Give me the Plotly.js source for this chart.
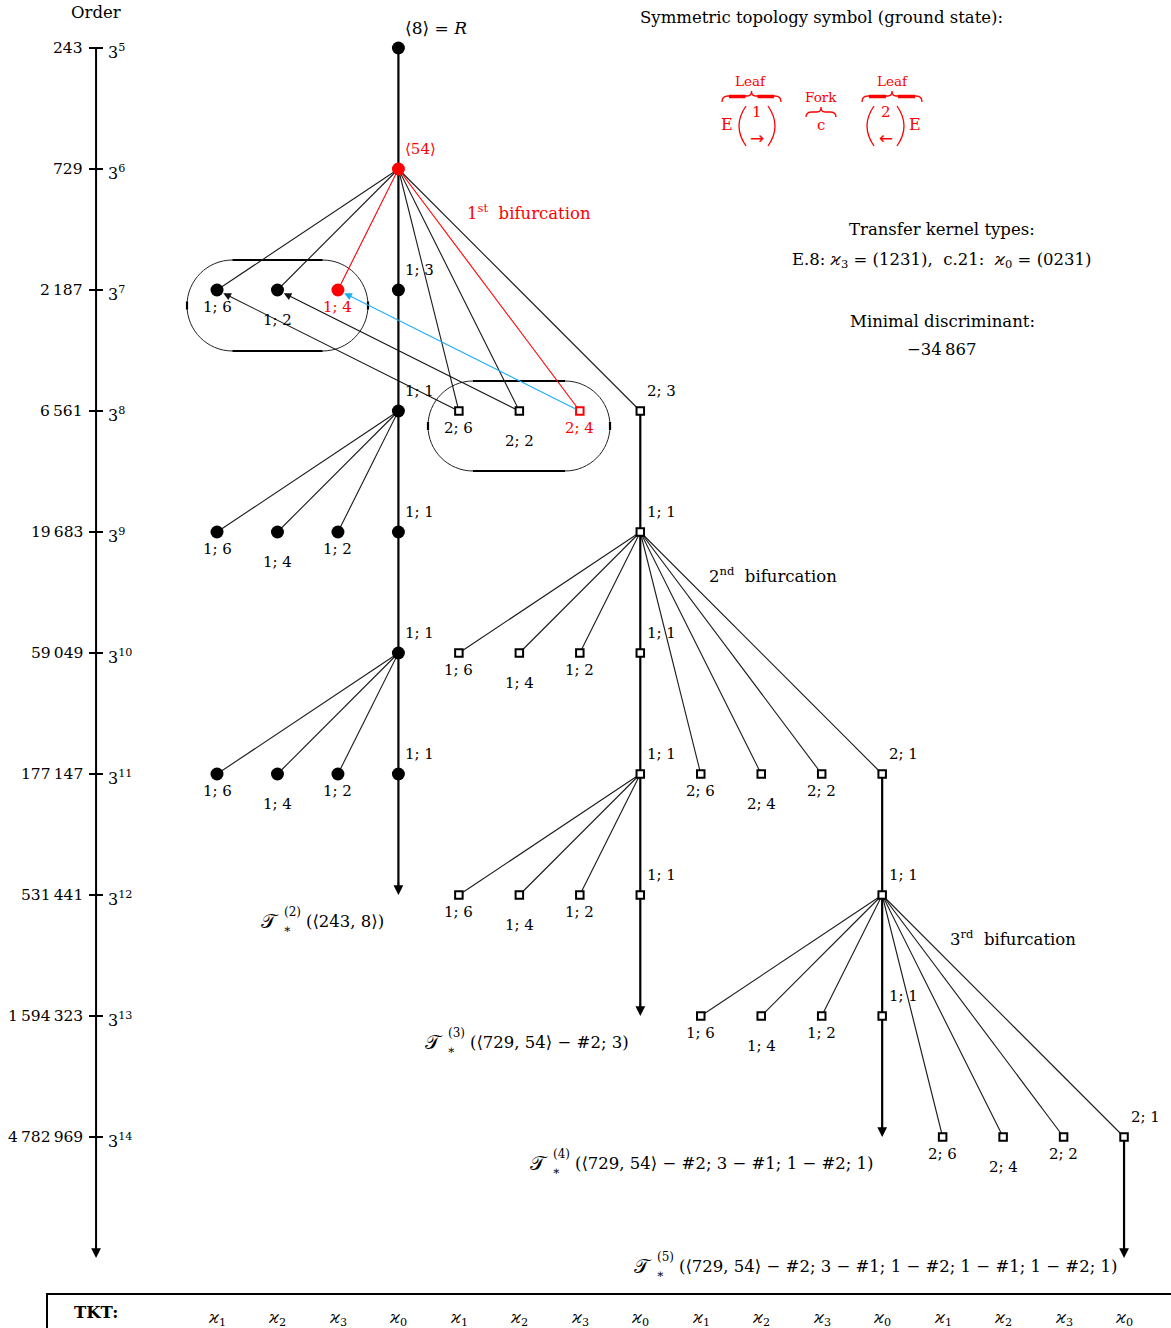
<!DOCTYPE html>
<html><head><meta charset="utf-8">
<script src="https://cdn.plot.ly/plotly-3.0.1.min.js"></script>
<style>html,body{margin:0;padding:0;background:#fff}#g{width:1171px;height:1328px}</style>
</head><body><div id="g"></div>
<script>
// ---------------- data ----------------
const orderLabels = ['243','729','2\u2009187','6\u2009561','19\u2009683','59\u2009049','177\u2009147','531\u2009441','1\u2009594\u2009323','4\u2009782\u2009969'];
const orderExps = [5,6,7,8,9,10,11,12,13,14];
const tktLabels = ['1','2','3','0','1','2','3','0','1','2','3','0','1','2','3','0'];
const tktCols = [1,2,3,4,5,6,7,8,9,10,11,12,13,14,15,16];

// circle vertices (main trunk)
const circCol = [4,4,1,2,3,4,4,1,2,3,4,4,1,2,3,4];
const circLev = [5,6,7,7,7,7,8,9,9,9,9,10,11,11,11,11];
const circLab = ['\u27E88\u27E9\u00A0=\u00A0<i>R</i>','\u27E854\u27E9','1; 6','1; 2','1; 4','1; 3','1; 1','1; 6','1; 4','1; 2','1; 1','1; 1','1; 6','1; 4','1; 2','1; 1'];
const circRed = [false,true,false,false,true,false,false,false,false,false,false,false,false,false,false,false];

// square vertices
const sqCol = [5,6,7,8, 8, 5,6,7,8, 8,9,10,11,12, 5,6,7,8,12, 9,10,11,12, 13,14,15,16];
const sqLev = [8,8,8,8, 9, 10,10,10,10, 11,11,11,11,11, 12,12,12,12,12, 13,13,13,13, 14,14,14,14];
const sqLab = ['2; 6','2; 2','2; 4','2; 3','1; 1','1; 6','1; 4','1; 2','1; 1','1; 1','2; 6','2; 4','2; 2','2; 1','1; 6','1; 4','1; 2','1; 1','1; 1','1; 6','1; 4','1; 2','1; 1','2; 6','2; 4','2; 2','2; 1'];
const sqRed = sqCol.map((c,i)=> i===2);

// edges [fromCol, fromLev, toCol, toLev]
const edgesBlack = [[4,6,1,7],[4,6,2,7],[4,6,5,8],[4,6,6,8],[4,6,8,8],
  [4,8,1,9],[4,8,2,9],[4,8,3,9],
  [4,10,1,11],[4,10,2,11],[4,10,3,11],
  [8,9,5,10],[8,9,6,10],[8,9,7,10],[8,9,9,11],[8,9,10,11],[8,9,11,11],[8,9,12,11],
  [8,11,5,12],[8,11,6,12],[8,11,7,12],
  [12,12,9,13],[12,12,10,13],[12,12,11,13],[12,12,13,14],[12,12,14,14],[12,12,15,14],[12,12,16,14]];
const edgesRed = [[4,6,3,7],[4,6,7,8]];
// capitulation arrows [fromCol, fromLev, toCol, toLev]
const capArrows = [[5,8,1,7],[6,8,2,7],[7,8,3,7]];
const capColors = ['#111','#111','#1eaef0'];

// mainlines (trunks) [col, fromLev, toLev]
const trunks = [[4,5,12],[8,8,13],[12,11,14],[16,14,15]];
const treeNames = [
  {sup:'(2)', rest:'(\u27E8243, 8\u27E9)'},
  {sup:'(3)', rest:'(\u27E8729, 54\u27E9\u00A0\u2212\u00A0#2; 3)'},
  {sup:'(4)', rest:'(\u27E8729, 54\u27E9\u00A0\u2212\u00A0#2; 3\u00A0\u2212\u00A0#1; 1\u00A0\u2212\u00A0#2; 1)'},
  {sup:'(5)', rest:'(\u27E8729, 54\u27E9\u00A0\u2212\u00A0#2; 3\u00A0\u2212\u00A0#1; 1\u00A0\u2212\u00A0#2; 1\u00A0\u2212\u00A0#1; 1\u00A0\u2212\u00A0#2; 1)'}
];

// ---------------- geometry helpers ----------------
const W=1171,H=1328;
const cx = px => 1+(px-217)/60.47;
const ly = py => 5+(py-48)/121;
const PX = x => x/W, PY = y => 1-y/H;
const FONT = 'DejaVu Serif, Liberation Serif, serif';
const RED = '#ff0000';
const FS = 16.5;

const circPos = ['ur','ur','b','bb','b','ur','ur','b','bb','b','ur','ur','b','bb','b','ur'];
const sqPos = ['b','bb','b','ur','ur','b','bb','b','ur','ur','b','bb','b','ur','b','bb','b','ur','ur','b','bb','b','ur','b','bb','b','ur'];

const traces = [];
const annotations = [];
const shapes = [];

// order axis
traces.push({x:[-1,-1], y:[5, 14.93], mode:'lines', line:{color:'#000', width:2}, hoverinfo:'skip'});
{
  const tx=[], ty=[];
  orderExps.forEach(e=>{ tx.push(cx(89),cx(103),null); ty.push(e,e,null); });
  traces.push({x:tx,y:ty,mode:'lines',line:{color:'#000',width:2},hoverinfo:'skip'});
}
annotations.push({x:-1, y:15, ax:0, ay:-14, text:'', showarrow:true, arrowhead:2, arrowsize:1.3, arrowwidth:1.5, arrowcolor:'#000'});
orderExps.forEach((e,i)=>{
  annotations.push({x:cx(85), y:e, text:orderLabels[i], showarrow:false, xanchor:'right', yanchor:'middle', font:{family:FONT,size:15.5,color:'#000'}});
  annotations.push({x:cx(106), y:e, yshift:-3, text:'3<sup>'+e+'</sup>', showarrow:false, xanchor:'left', yanchor:'middle', font:{family:FONT,size:16,color:'#000'}});
});

// edges
function edgeTrace(list,color,width){
  const x=[],y=[];
  list.forEach(e=>{ x.push(e[0],e[2],null); y.push(e[1],e[3],null); });
  return {x:x,y:y,mode:'lines',line:{color:color,width:width},hoverinfo:'skip'};
}
traces.push(edgeTrace(edgesBlack,'#1a1a1a',1.1));
traces.push(edgeTrace(edgesRed,RED,1.1));

// trunks
trunks.forEach(t=>{
  const endLev = t[2] - 5/121;
  traces.push({x:[t[0],t[0]], y:[t[1], endLev], mode:'lines', line:{color:'#000',width:2.2}, hoverinfo:'skip'});
  annotations.push({x:t[0], y:t[2], ax:0, ay:-14, text:'', showarrow:true, arrowhead:2, arrowsize:1.3, arrowwidth:1.5, arrowcolor:'#000'});
});

// capitulation arrows
capArrows.forEach((a,i)=>{
  annotations.push({x:a[2], y:a[3], ax:a[0], ay:a[1], axref:'x', ayref:'y', xref:'x', yref:'y', text:'', showarrow:true,
    arrowhead:2, arrowsize:1.4, arrowwidth:1.1, arrowcolor:capColors[i], standoff:7, startstandoff:3});
});

// vertices
traces.push({x:circCol.filter((c,i)=>!circRed[i]), y:circLev.filter((c,i)=>!circRed[i]), mode:'markers',
  marker:{symbol:'circle', size:13, color:'#000'}, hoverinfo:'skip'});
traces.push({x:circCol.filter((c,i)=>circRed[i]), y:circLev.filter((c,i)=>circRed[i]), mode:'markers',
  marker:{symbol:'circle', size:13, color:RED}, hoverinfo:'skip'});
traces.push({x:sqCol.filter((c,i)=>!sqRed[i]), y:sqLev.filter((c,i)=>!sqRed[i]), mode:'markers',
  marker:{symbol:'square', size:7.5, color:'#fff', line:{color:'#000',width:2}}, hoverinfo:'skip'});
traces.push({x:sqCol.filter((c,i)=>sqRed[i]), y:sqLev.filter((c,i)=>sqRed[i]), mode:'markers',
  marker:{symbol:'square', size:7.5, color:'#fff', line:{color:RED,width:2}}, hoverinfo:'skip'});

function vlabel(col,lev,text,pos,red,size){
  const a={x:col,y:lev,text:text,showarrow:false,font:{family:FONT,size:size||15,color:red?RED:'#000'}};
  if(pos==='ur'){ a.xanchor='left'; a.yanchor='middle'; a.xshift=5; a.yshift=20; }
  else if(pos==='b'){ a.xanchor='center'; a.yanchor='middle'; a.yshift=-17; }
  else { a.xanchor='center'; a.yanchor='middle'; a.yshift=-30; }
  annotations.push(a);
}
circCol.forEach((c,i)=>vlabel(c,circLev[i],circLab[i],circPos[i],circRed[i], i===0?17:15));
sqCol.forEach((c,i)=>vlabel(c,sqLev[i],sqLab[i],sqPos[i],sqRed[i]));

// stadium boxes around capitulation targets
function stadium(x0,x1,yt,yb){
  const k=0.5523, ry=(yb-yt)/2, rx=ry*121/60.47, ym=(yt+yb)/2, xa=x0+rx, xb=x1-rx;
  const p = `M ${xa},${yt} L ${xb},${yt} C ${xb+k*rx},${yt} ${x1},${ym-k*ry} ${x1},${ym} C ${x1},${ym+k*ry} ${xb+k*rx},${yb} ${xb},${yb} L ${xa},${yb} C ${xa-k*rx},${yb} ${x0},${ym+k*ry} ${x0},${ym} C ${x0},${ym-k*ry} ${xa-k*rx},${yt} ${xa},${yt} Z`;
  shapes.push({type:'path', path:p, xref:'x', yref:'y', line:{color:'#222',width:1}, layer:'below'});
  shapes.push({type:'line', x0:xa, x1:xb, y0:yt, y1:yt, xref:'x', yref:'y', line:{color:'#000',width:2}, layer:'below'});
  shapes.push({type:'line', x0:xa, x1:xb, y0:yb, y1:yb, xref:'x', yref:'y', line:{color:'#000',width:2}, layer:'below'});
  const d=4/121;
  shapes.push({type:'line', x0:x0, x1:x0, y0:ym-d, y1:ym+d, xref:'x', yref:'y', line:{color:'#000',width:2.2}, layer:'below'});
  shapes.push({type:'line', x0:x1, x1:x1, y0:ym-d, y1:ym+d, xref:'x', yref:'y', line:{color:'#000',width:2.2}, layer:'below'});
}
stadium(cx(187),cx(368),ly(260),ly(351));
stadium(cx(428),cx(610),ly(381),ly(471));

// info texts
function ptext(px,py,text,size,color,anchor,fam){
  annotations.push({x:PX(px),y:PY(py),xref:'paper',yref:'paper',xanchor:anchor||'center',yanchor:'middle',text:text,showarrow:false,font:{family:fam||FONT,size:size,color:color||'#000'}});
}

// tree names
const tnPos = [[273,921],[437,1042],[542,1163],[646,1266]];
treeNames.forEach((t,i)=>{
  const [px,py]=tnPos[i];
  ptext(px+8,py,'\uD835\uDCAF',20,'#000','right','DejaVu Sans, '+FONT);
  ptext(px+9,py-9,t.sup,12,'#000','left');
  ptext(px+8,py+8,'\u2217',12,'#000','left');
  ptext(px+31,py,t.rest,FS,'#000','left');
});

// bifurcation labels
ptext(465,212,'1<sup>st</sup>\u00A0\u00A0bifurcation',FS,RED,'left');
ptext(707,575,'2<sup>nd</sup>\u00A0\u00A0bifurcation',FS,'#000','left');
ptext(948,938,'3<sup>rd</sup>\u00A0\u00A0bifurcation',FS,'#000','left');

ptext(96,12,'Order',FS);
ptext(821,17,'Symmetric topology symbol (ground state):',FS);
ptext(942,229,'Transfer kernel types:',FS);
ptext(942,260,'E.8:\u00A0<i>\u03F0</i><sub>3</sub>\u00A0=\u00A0(1231),\u00A0\u00A0c.21:\u00A0\u00A0<i>\u03F0</i><sub>0</sub>\u00A0=\u00A0(0231)',FS);
ptext(942,321,'Minimal discriminant:',FS);
ptext(942,350,'\u221234\u2009867',FS);

// topology symbol (red)
ptext(750,81,'Leaf',13.5,RED);
ptext(892,81,'Leaf',13.5,RED);
ptext(821,97,'Fork',13.5,RED);
ptext(821,125,'c',15,RED);
ptext(727,125,'E',16,RED);
ptext(915,125,'E',16,RED);
ptext(757,112,'1',15,RED);
ptext(886,112,'2',15,RED);
ptext(757,138,'\u2192',17,RED,'center','DejaVu Sans');
ptext(886,138,'\u2190',17,RED,'center','DejaVu Sans');
function ppath(pts){
  return pts.map(s=>{ const c=s[0]; const r=[]; for(let i=1;i<s.length;i+=2) r.push(PX(s[i])+','+PY(s[i+1])); return c+' '+r.join(' '); }).join(' ');
}
function paren(xTop,xMid,yT,yB){
  shapes.push({type:'path',xref:'paper',yref:'paper',path:ppath([['M',xTop,yT],['Q',xMid,(yT+yB)/2,xTop,yB]]),line:{color:RED,width:1.3}});
}
paren(746,732,106,146); paren(768,782,106,146);
paren(874,860,106,146); paren(897,911,106,146);
function brace(xa,xb,ye,yf,yt){
  const xm=(xa+xb)/2;
  shapes.push({type:'path',xref:'paper',yref:'paper',line:{color:RED,width:1.3},
    path:ppath([['M',xa,ye],['Q',xa,yf,xa+6,yf],['L',xm-4,yf],['Q',xm,yf,xm,yt],['Q',xm,yf,xm+4,yf],['L',xb-6,yf],['Q',xb,yf,xb,ye]])});
}
function braceThick(xa,xb,yf){
  const xm=(xa+xb)/2;
  shapes.push({type:'line',xref:'paper',yref:'paper',x0:PX(xa+7),x1:PX(xm-6),y0:PY(yf),y1:PY(yf),line:{color:RED,width:3.5}});
  shapes.push({type:'line',xref:'paper',yref:'paper',x0:PX(xm+6),x1:PX(xb-7),y0:PY(yf),y1:PY(yf),line:{color:RED,width:3.5}});
}
brace(722,781,102,96,91); braceThick(722,781,96.5);
brace(862,922,102,96,91); braceThick(862,922,96.5);
brace(806,836,117,112,107);

// TKT box
shapes.push({type:'rect',xref:'paper',yref:'paper',x0:PX(47),x1:PX(1180),y0:PY(1294),y1:PY(1345),line:{color:'#000',width:2}});
ptext(96,1312,'<b>TKT:</b>',FS,'#000');
tktCols.forEach((c,i)=>{
  annotations.push({x:c,y:ly(1318),xanchor:'center',yanchor:'middle',text:'<i>\u03F0</i><sub>'+tktLabels[i]+'</sub>',showarrow:false,font:{family:FONT,size:16,color:'#000'}});
});

const layout = {
  width:W, height:H, margin:{l:0,r:0,t:0,b:0}, paper_bgcolor:'#fff', plot_bgcolor:'#fff', showlegend:false,
  xaxis:{range:[cx(0),cx(W)], visible:false, fixedrange:true},
  yaxis:{range:[ly(H),ly(0)], visible:false, fixedrange:true},
  annotations:annotations, shapes:shapes
};
Plotly.newPlot('g', traces, layout, {staticPlot:true, displayModeBar:false});
</script></body></html>
